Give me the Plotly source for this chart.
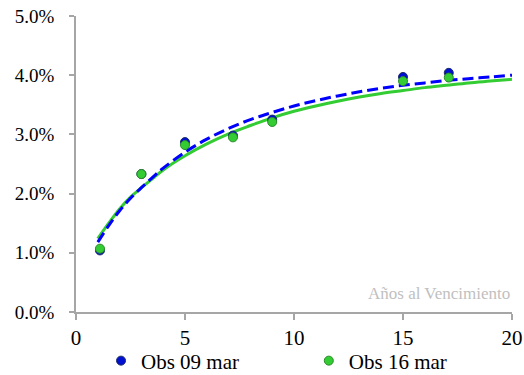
import plotly.graph_objects as go

# observed yields (years to maturity, yield)
obs_x = [1.1, 3.0, 5.0, 7.2, 9.0, 15.0, 17.1]
obs_09 = [0.0104, 0.0233, 0.0287, 0.0298, 0.0325, 0.0397, 0.0404]
obs_16 = [0.0107, 0.0233, 0.0282, 0.0295, 0.0321, 0.0390, 0.0396]

# fitted curves
curve_x = [1, 1.5, 2, 2.5, 3, 3.5, 4, 5, 6, 7, 8, 9, 10, 11, 12, 13, 14, 15, 16, 17, 18, 19, 20]
curve_09 = [0.0118, 0.0146, 0.0171, 0.0192, 0.0210, 0.0227, 0.0243, 0.0270, 0.0292, 0.0310,
            0.0325, 0.0337, 0.0348, 0.0357, 0.0365, 0.0372, 0.0378, 0.0383, 0.0387, 0.0391,
            0.0394, 0.0397, 0.0400]
curve_16 = [0.0124, 0.0150, 0.0174, 0.0194, 0.0210, 0.0225, 0.0240, 0.0264, 0.0284, 0.0301,
            0.0315, 0.0328, 0.0339, 0.0348, 0.0356, 0.0363, 0.0369, 0.0374, 0.0379, 0.0383,
            0.0387, 0.0390, 0.0393]

BLUE = "#0000ff"
GREEN = "#33cc33"
AXIS = "#a6a6a6"

fig = go.Figure()

fig.add_trace(go.Scatter(
    x=curve_x, y=curve_16, mode="lines", line=dict(color=GREEN, width=3, shape="spline"),
    showlegend=False, hoverinfo="skip"
))
fig.add_trace(go.Scatter(
    x=curve_x, y=curve_09, mode="lines",
    line=dict(color=BLUE, width=3, dash="11px,5px", shape="spline"),
    showlegend=False, hoverinfo="skip"
))
fig.add_trace(go.Scatter(
    x=obs_x, y=obs_09, mode="markers", name="Obs 09 mar", legend="legend",
    marker=dict(color="#0010d0", size=9, line=dict(color="#1a2a6a", width=1))
))
fig.add_trace(go.Scatter(
    x=obs_x, y=obs_16, mode="markers", name="Obs 16 mar", legend="legend2",
    marker=dict(color=GREEN, size=9, line=dict(color="#2a8a2a", width=1))
))

fig.update_xaxes(
    range=[0, 20], tickvals=[0, 5, 10, 15, 20], showgrid=False, zeroline=False,
    showline=True, linecolor=AXIS, linewidth=1.5, ticks="outside", ticklen=6,
    tickcolor=AXIS, tickwidth=1.5, tickfont=dict(size=21)
)
fig.update_yaxes(
    range=[0, 0.05], tickvals=[0, 0.01, 0.02, 0.03, 0.04, 0.05], tickformat=".1%",
    showgrid=False, zeroline=False, showline=True, linecolor=AXIS, linewidth=1.5,
    ticks="outside", ticklen=5, tickcolor=AXIS, tickwidth=1.5, tickfont=dict(size=19),
    ticklabelstandoff=11
)

fig.add_annotation(
    text="Años al Vencimiento", xref="paper", yref="paper", x=1.0, y=0.061,
    xanchor="right", yanchor="middle", showarrow=False,
    font=dict(size=17, color="#bfbfbf")
)

legend_style = dict(orientation="h", yref="paper", y=-0.1655, xanchor="left",
                    yanchor="middle", font=dict(size=21), bgcolor="rgba(0,0,0,0)")

fig.update_layout(
    width=524, height=375,
    margin=dict(l=76, r=12, t=16, b=63, autoexpand=False),
    paper_bgcolor="white", plot_bgcolor="white",
    font=dict(family="Liberation Serif", size=19, color="#000000"),
    legend=dict(x=0.0574, **legend_style),
    legend2=dict(x=0.534, **legend_style),
)

# drop the browser's default 8px body margin so the figure fills the window
fig.write_html(
    "out.html",
    config={"displayModeBar": False},
    post_script="document.body.style.margin = '0';",
)
